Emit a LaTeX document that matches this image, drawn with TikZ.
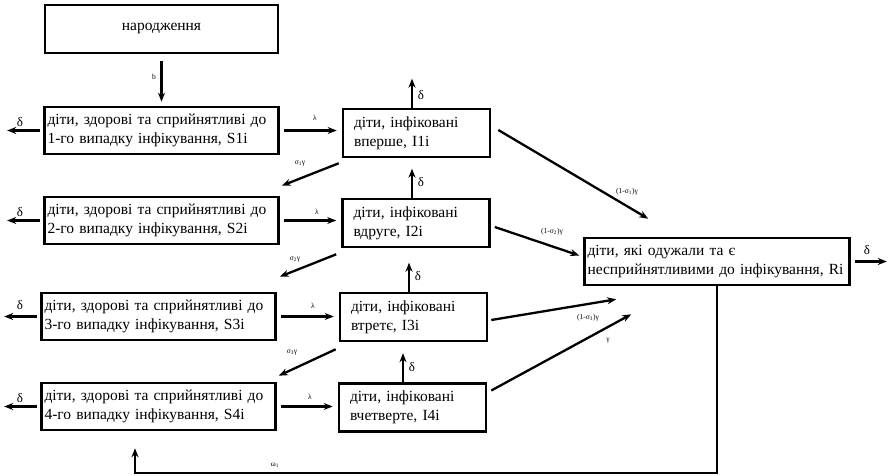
\documentclass[tikz,border=0pt]{standalone}
\usepackage{fontspec}
\setmainfont{Liberation Serif}
\usetikzlibrary{arrows.meta,calc}
\begin{document}
\begin{tikzpicture}[x=1pt,y=-1pt,
  box/.style={draw, line width=2.6pt, rectangle, inner sep=3pt, align=left,
    font=\fontsize{15.5}{19}\selectfont, anchor=center},
  sbox/.style={box, minimum width=233pt, text width=228pt, minimum height=47pt},
  ibox/.style={box, minimum width=147pt, text width=125pt, minimum height=48pt},
  rbox/.style={box, minimum width=264pt, text width=259pt, minimum height=47pt},
  nbox/.style={box, minimum width=233pt, minimum height=48pt, align=center, text width=226pt},
  arr/.style={line width=2.3pt, -{Stealth[length=9pt,width=7pt]}},
  lab/.style={font=\fontsize{7.5}{8}\selectfont, inner sep=0pt},
  dlab/.style={font=\fontsize{13}{14}\selectfont, inner sep=0pt}]
\useasboundingbox (0,0) rectangle (889,476);

% boxes
\node[nbox] (N) at (161.5,29) {народження};
\node[sbox] (S1) at (161.5,130.5) {діти, здорові та сприйнятливі до\\1-го випадку інфікування, S1i};
\node[sbox] (S2) at (161.5,220.5) {діти, здорові та сприйнятливі до\\2-го випадку інфікування, S2i};
\node[sbox] (S3) at (158.5,316.5) {діти, здорові та сприйнятливі до\\3-го випадку інфікування, S3i};
\node[sbox] (S4) at (158.5,406.5) {діти, здорові та сприйнятливі до\\4-го випадку інфікування, S4i};
\node[ibox] (I1) at (416.5,133) {діти, інфіковані\\вперше, I1i};
\node[ibox] (I2) at (416,223) {діти, інфіковані\\вдруге, I2i};
\node[ibox] (I3) at (413.5,317) {діти, інфіковані\\втретє, I3i};
\node[ibox] (I4) at (412.5,407.5) {діти, інфіковані\\вчетверте, I4i};
\node[rbox] (R) at (717,261.5) {діти, які одужали та є\\несприйнятливими до інфікування, Ri};

% birth
\draw[arr, shorten <=7pt, shorten >=4pt] (N.south) -- (S1.north);
\node[lab] at (154,77) {b};

% S -> I
\foreach \s/\i in {S1/I1,S2/I2,S3/I3,S4/I4}{
  \draw[arr, shorten <=4pt, shorten >=5pt] (\s.east) -- (\s.east -| \i.west);
}
\node[lab] at (315,118) {λ};
\node[lab] at (317,212) {λ};
\node[lab] at (313,306) {λ};
\node[lab] at (310,397) {λ};

% S deaths
\foreach \s in {S1,S2,S3,S4}{
  \coordinate (d\s) at ($(\s.west)+(-36,0)$);
  \draw[arr, shorten <=3pt] (\s.west) -- (d\s);
}
\node[dlab] at (20,122) {δ};
\node[dlab] at (20,212) {δ};
\node[dlab] at (20,305) {δ};
\node[dlab] at (20,398) {δ};

% I deaths
\foreach \i/\dx in {I1/-4.5,I2/-4,I3/-4.5,I4/-9.5}{
  \coordinate (b\i) at ($(\i.north)+(\dx,0)$);
  \coordinate (u\i) at ($(\i.north)+(\dx,-29)$);
  \draw[arr] (b\i) -- (u\i);
}
\node[dlab] at (421,95) {δ};
\node[dlab] at (421,182) {δ};
\node[dlab] at (418,276) {δ};
\node[dlab] at (412,367) {δ};

% I -> S (reinfection susceptibility)
\draw[arr] ($(I1.south west)+(-3,5)$) -- ($(S2.north east)+(2,-10)$);
\draw[arr] ($(I2.south west)+(-5,6)$) -- ($(S3.north east)+(3,-15)$);
\draw[arr] ($(I3.south west)+(-3,7)$) -- ($(S4.north east)+(2,-6)$);
\node[lab] at (300,163) {σ\textsubscript{1}γ};
\node[lab] at (295,259) {σ\textsubscript{2}γ};
\node[lab] at (292,352) {σ\textsubscript{3}γ};

% I -> R
\draw[arr] ($(I1.east)+(7,-3)$) -- ($(R.north west)+(65,-18)$);
\draw[arr] ($(I2.east)+(4,4)$) -- ($(R.west)+(-4,-6)$);
\draw[arr] ($(I3.east)+(3,3)$) -- ($(R.south west)+(33,13)$);
\draw[arr] ($(I4.east)+(4,-17)$) -- ($(R.south west)+(48,28)$);
\node[lab] at (627,192) {(1-σ\textsubscript{1})γ};
\node[lab] at (552,232) {(1-σ\textsubscript{2})γ};
\node[lab] at (588,318) {(1-σ\textsubscript{3})γ};
\node[lab] at (608,341) {γ};

% R death
\coordinate (dR) at ($(R.east)+(36,0)$);
\draw[arr, shorten <=4pt] (R.east) -- (dR);
\node[dlab] at (867,250) {δ};

% feedback R -> S4
\coordinate (fb2) at (135,473);
\coordinate (fb1) at (R.south |- fb2);
\coordinate (fb3) at ($(S4.south -| fb2)+(0,17)$);
\draw[arr] (R.south) -- (fb1) -- (fb2) -- (fb3);
\node[lab] at (275,465) {ω\textsubscript{1}};
\end{tikzpicture}
\end{document}
